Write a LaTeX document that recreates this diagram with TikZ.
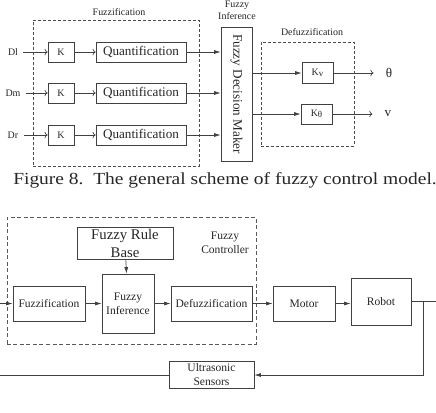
\documentclass[tikz,border=0pt]{standalone}
\usepackage{fontspec}
\setmainfont{Liberation Serif}
\newfontfamily\capfont[FakeStretch=1.15]{Liberation Serif}
\newcommand{\gain}[1]{K\raisebox{-1.3bp}{\fontsize{9}{9}\selectfont #1}}
\usetikzlibrary{positioning,arrows.meta}

\begin{document}
\begin{tikzpicture}[x=1bp,y=-1bp,line width=0.7bp,
    every node/.style={text=black!85,inner sep=0pt},
    blk/.style={draw=black!75,align=center},
    dashbox/.style={draw=black!70,dash pattern=on 3bp off 2bp},
    longdash/.style={draw=black!65,dash pattern=on 4bp off 2.5bp},
    arr/.style={draw=black!75,-{Latex[length=6.5bp,width=4bp]}},
    wire/.style={draw=black!75},
    small/.style={font=\fontsize{10}{11.5}\selectfont,align=center},
    mid/.style={font=\fontsize{11.6}{14}\selectfont,align=center},
    big/.style={font=\fontsize{13.2}{15}\selectfont,align=center}]
    \useasboundingbox (0,0) rectangle (436,412);
    % general scheme
    \node[dashbox,minimum width=166bp,minimum height=146bp] (fuzbox) at (116,93) {};
    \node[small] (fuzlbl) at (119,12) {Fuzzification};
    \node[blk,minimum width=31bp,minimum height=134bp] (fdm) at (236.5,94) {};
    \node[big,rotate=-90] (fdmtxt) at (fdm) {Fuzzy Decision Maker};
    \node[small] (inflbl) at (237,10.5) {Fuzzy\\Inference};
    \node[dashbox,minimum width=93bp,minimum height=104bp] (defbox) at (307.5,94) {};
    \node[small] (deflbl) at (312,32) {Defuzzification};
    \node[small,inner xsep=5bp] (dl) at (13,52) {Dl};
    \node[small,inner xsep=5bp] (dm) at (13,93) {Dm};
    \node[small,inner xsep=5bp] (dr) at (13,135) {Dr};
    \node[blk,small,minimum width=26bp,minimum height=20bp] (kl) at (61,52) {K} edge[arr,<-] (dl);
    \node[blk,small,minimum width=26bp,minimum height=20bp] (km) at (61,93) {K} edge[arr,<-] (dm);
    \node[blk,small,minimum width=26bp,minimum height=20bp] (kr) at (61,135) {K} edge[arr,<-] (dr);
    \node[blk,big,minimum width=90bp,minimum height=20bp] (ql) at (141,52) {Quantification} edge[arr,<-] (kl);
    \node[blk,big,minimum width=90bp,minimum height=20bp] (qm) at (141,93) {Quantification} edge[arr,<-] (km);
    \node[blk,big,minimum width=90bp,minimum height=20bp] (qr) at (141,135) {Quantification} edge[arr,<-] (kr);
    \draw[arr] (ql) -- (fdm.west |- ql);
    \draw[arr] (qm) -- (fdm.west |- qm);
    \draw[arr] (qr) -- (fdm.west |- qr);
    \node[blk,small,minimum width=31bp,minimum height=21bp] (kv) at (317.5,73) {\gain{v}};
    \node[blk,small,minimum width=31bp,minimum height=20bp] (kt) at (316.5,114) {\gain{θ}};
    \draw[arr] (fdm.east |- kv) -- (kv);
    \draw[arr] (fdm.east |- kt) -- (kt);
    \node[big,inner xsep=12bp] (theta) at (389,73) {θ} edge[arr,<-] (kv);
    \node[big,inner xsep=12bp] (vel) at (388,114) {v} edge[arr,<-] (kt);
    \node[font=\capfont\fontsize{17}{18}\selectfont,anchor=base] (cap) at (225,184.5)
      {Figure 8.\ \ The general scheme of fuzzy control model.};
    % control loop
    \node[longdash,minimum width=249bp,minimum height=127bp] (ctrlbox) at (131.5,280.5) {};
    \node[mid] (ctrllbl) at (225,243) {Fuzzy\\Controller};
    \node[blk,font=\fontsize{14.8}{18}\selectfont,minimum width=96bp,minimum height=32bp] (rule) at (125,243) {Fuzzy Rule\\Base};
    \node[blk,mid,minimum width=72bp,minimum height=35bp] (fuzz) at (49,303.5) {Fuzzification};
    \node[blk,mid,minimum width=52bp,minimum height=59bp] (infer) at (128,303.5) {Fuzzy\\Inference};
    \node[blk,mid,minimum width=81bp,minimum height=35bp] (defuzz) at (211.5,303.5) {Defuzzification};
    \node[blk,mid,minimum width=62bp,minimum height=35bp] (motor) at (304,303.5) {Motor};
    \node[blk,mid,minimum width=60bp,minimum height=47bp] (robot) at (381,301.5) {Robot};
    \node[blk,mid,minimum width=85bp,minimum height=27bp] (sensor) at (211.5,374.5) {Ultrasonic\\Sensors};
    \coordinate (in) at (0,303.5);
    \coordinate (out) at (436,301.5);
    \coordinate (tap) at (423,301.5);
    \coordinate (turn) at (423,375);
    \coordinate (back) at (0,375);
    \draw[arr] (in) -- (fuzz);
    \draw[arr] (fuzz) -- (infer);
    \draw[arr] (infer) -- (defuzz);
    \draw[arr] (defuzz) -- (motor);
    \draw[arr] (motor) -- (robot.west |- motor);
    \draw[arr] (rule) -- (infer);
    \draw[wire] (robot.east) -- (out);
    \draw[arr] (tap) -- (turn) -- (sensor.east |- turn);
    \draw[wire] (sensor.west |- back) -- (back);
\end{tikzpicture}
\end{document}
